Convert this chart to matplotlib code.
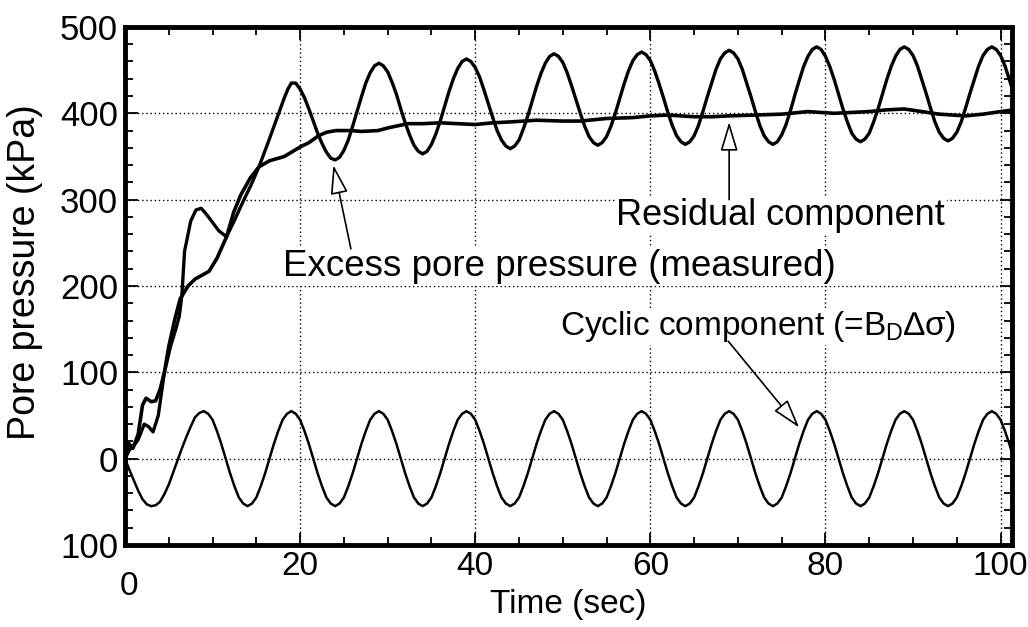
import matplotlib
matplotlib.use("Agg")
import matplotlib.pyplot as plt
from matplotlib.ticker import MultipleLocator

plt.rcParams["font.family"] = ["Liberation Sans", "DejaVu Sans"]
plt.rcParams["mathtext.fontset"] = "custom"
plt.rcParams["mathtext.rm"] = "Liberation Sans"

# cyclic component (=B_D * delta sigma), read every half second, 0 .. 101.5 s
cyc_t = [i * 0.5 for i in range(204)]
cyc_p = [0, -13, -25, -37, -47, -53, -55, -54, -50, -41,
         -30, -16, -2, 12, 25, 37, 48, 53, 55, 52,
         45, 32, 17, 0, -17, -32, -45, -52, -55, -52, -45, -32, -17, 0, 17, 32, 45, 52, 55, 52,
         45, 32, 17, 0, -17, -32, -45, -52, -55, -52, -45, -32, -17, 0, 17, 32, 45, 52, 55, 52,
         45, 32, 17, 0, -17, -32, -45, -52, -55, -52, -45, -32, -17, 0, 17, 32, 45, 52, 55, 52,
         45, 32, 17, 0, -17, -32, -45, -52, -55, -52, -45, -32, -17, 0, 17, 32, 45, 52, 55, 52,
         45, 32, 17, 0, -17, -32, -45, -52, -55, -52, -45, -32, -17, 0, 17, 32, 45, 52, 55, 52,
         45, 32, 17, 0, -17, -32, -45, -52, -55, -52, -45, -32, -17, 0, 17, 32, 45, 52, 55, 52,
         45, 32, 17, 0, -17, -32, -45, -52, -55, -52, -45, -32, -17, 0, 17, 32, 45, 52, 55, 52,
         45, 32, 17, 0, -17, -32, -45, -52, -55, -52, -45, -32, -17, 0, 17, 32, 45, 52, 55, 52,
         45, 32, 17, 0, -17, -32, -45, -52, -55, -52, -45, -32, -17, 0, 17, 32, 45, 52, 55, 52,
         45, 32, 17, 0]

# residual component
res_t = [0, 0.4, 0.9, 1.5, 2.0, 2.4, 3.0, 3.5, 4.0, 4.5, 5.0, 5.7, 6.3, 7.2, 8.0,
         9.6, 10.5, 11.6, 12.4, 13.2, 14.3, 15.3, 16.5, 18.2, 20, 21, 22.1, 23,
         24.1, 25.8, 27, 28.9, 30, 32.3, 34, 36, 38, 40, 42, 44, 47, 50, 52, 55,
         58, 60, 62, 65, 67, 69, 72, 75, 78, 81, 83, 85, 87, 89, 91, 93, 96, 98,
         100, 101.5]
res_p = [0, 18, 12, 28, 62, 70, 66, 67, 80, 100, 130, 162, 185, 200, 208,
         217, 232, 257, 285, 305, 325, 338, 345, 350, 361, 366, 374, 378,
         380, 380, 379, 380, 383, 388, 388, 389, 388, 387, 389, 390, 392, 391, 391, 394,
         395, 397, 398, 396, 396, 397, 398, 399, 402, 400, 401, 402, 404, 405, 402, 399, 397, 399,
         402, 404]

# excess pore pressure (measured): irregular start, then every half second from 19 s
exc_t = [0, 0.5, 1, 1.5, 2.2, 2.7, 3.2, 3.8, 4.5, 5.2, 5.8, 6.2, 6.5, 6.8, 7.5,
         8.1, 8.7, 9.3, 9.9, 10.7, 11.6, 12.5, 13.4, 14.4, 15.3, 16.3, 17.2,
         18.2, 18.6] + [19 + i * 0.5 for i in range(166)]
exc_p = [0, 10, 15, 22, 40, 37, 31, 50, 100, 130, 150, 165, 190, 240, 275,
         288, 290, 283, 275, 264, 257, 276, 296, 317, 338, 365, 390,
         418, 428,
         435, 435, 428, 418, 405, 391, 377, 365, 355, 348,
         346, 349, 357, 369, 385, 402, 419, 435, 447, 455,
         458, 455, 448, 436, 422, 405, 389, 375, 363, 356,
         353, 356, 364, 376, 391, 408, 425, 440, 452, 460,
         463, 460, 453, 442, 427, 411, 395, 380, 369, 362,
         359, 362, 369, 382, 397, 414, 431, 446, 458, 466,
         469, 466, 459, 447, 432, 416, 400, 385, 373, 366,
         363, 366, 373, 385, 400, 417, 434, 449, 461, 468,
         471, 468, 461, 449, 434, 418, 401, 386, 374, 367,
         364, 367, 374, 386, 402, 419, 435, 451, 463, 470,
         473, 470, 463, 451, 435, 419, 402, 386, 374, 367,
         364, 367, 375, 387, 403, 421, 438, 454, 466, 474,
         477, 474, 466, 454, 439, 422, 405, 390, 377, 370,
         367, 370, 377, 390, 405, 422, 439, 454, 466, 474,
         477, 474, 467, 455, 439, 423, 406, 390, 378, 371,
         368, 371, 378, 390, 406, 423, 439, 455, 467, 474,
         477, 474, 467, 455, 439, 423]

yticks = [-100, 0, 100, 200, 300, 400, 500]
ylabels = ["100", "0", "100", "200", "300", "400", "500"]
xticks = [0, 20, 40, 60, 80, 100]
xlabels = ["", "20", "40", "60", "80", "100"]

fig = plt.figure(figsize=(10.28, 6.27), dpi=100)
ax = fig.add_axes([0.1216, 0.1308, 0.8628, 0.8262])

ax.plot(cyc_t, cyc_p, color="black", lw=1.8, solid_joinstyle="round", zorder=3)
ax.plot(res_t, res_p, color="black", lw=2.6, solid_joinstyle="round", zorder=3)
ax.plot(exc_t, exc_p, color="black", lw=2.4, solid_joinstyle="round", zorder=3)

ax.set_xlim(0, 101.3)
ax.set_ylim(-100, 500)
ax.set_xticks(xticks)
ax.set_xticklabels(xlabels)
ax.set_yticks(yticks)
ax.set_yticklabels(ylabels)
ax.xaxis.set_minor_locator(MultipleLocator(5))
ax.yaxis.set_minor_locator(MultipleLocator(20))
ax.grid(True, which="major", color="black", ls=(0, (1, 2)), lw=1.0)
ax.tick_params(which="both", direction="in", top=True, right=True, width=1.3)
ax.tick_params(which="major", length=9)
ax.tick_params(which="minor", length=6)
ax.tick_params(axis="x", pad=4, labelsize=24)
ax.tick_params(axis="y", pad=5, labelsize=25)
for s in ax.spines.values():
    s.set_linewidth(3.5)

ax.annotate("0", xy=(0.4, 0), xycoords=("data", "axes fraction"),
            xytext=(0, -30), textcoords="offset points",
            ha="center", va="center", fontsize=24)

ax.set_xlabel("Time (sec)", fontsize=24)
ax.xaxis.set_label_coords(0.5, -0.084)
ax.set_ylabel("Pore pressure (kPa)", fontsize=27)
ax.yaxis.set_label_coords(-0.093, 0.527)

box = dict(fc="white", ec="none", pad=1)
ax.text(74.9, 282, "Residual component", fontsize=26, ha="center",
        va="center", bbox=box, zorder=4)
ax.text(49.6, 222, "Excess pore pressure (measured)", fontsize=26.5,
        ha="center", va="center", bbox=box, zorder=4)
ax.text(72.3, 153, "Cyclic component (=B$_\\mathregular{D}$\u2206\u03c3)",
        fontsize=24, ha="center", va="center", bbox=box, zorder=4)

arrow = dict(arrowstyle="-|>,head_length=1.0,head_width=0.3", fc="white",
             ec="black", lw=1.2, mutation_scale=18, shrinkA=0, shrinkB=0)
ax.annotate("", xy=(69, 390), xytext=(69, 300), arrowprops=arrow, zorder=5)
ax.annotate("", xy=(23.8, 340), xytext=(25.8, 243), arrowprops=arrow, zorder=5)
ax.annotate("", xy=(77.0, 36), xytext=(68.9, 136), arrowprops=arrow, zorder=5)

fig.savefig("out.png", dpi=100)
